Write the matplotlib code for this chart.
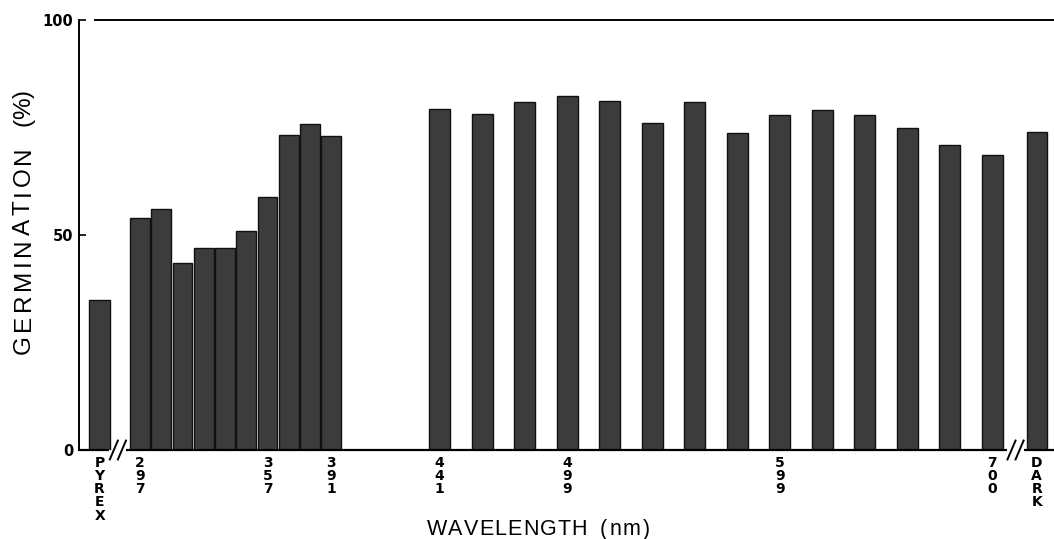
import matplotlib
matplotlib.use("Agg")
import matplotlib.pyplot as plt
import numpy as np

plt.rcParams['font.family'] = ['Liberation Sans', 'DejaVu Sans']

# ---- data ----
pyrex_label = "PYREX"
pyrex_value = 35.0

uv_labels = ["297", "", "", "", "", "", "357", "", "", "391"]
uv_values = [53.9, 56.0, 43.6, 46.9, 46.9, 51.0, 58.9, 73.3, 75.8, 73.0]

vis_labels = ["441", "", "", "499", "", "", "", "", "599", "", "", "", "", "700"]
vis_values = [79.3, 78.1, 81.0, 82.4, 81.2, 76.0, 81.0, 73.7, 77.8, 79.0, 77.9, 74.9, 70.9, 68.6]

dark_label = "DARK"
dark_value = 74.0

y_ticks = [0, 50, 100]
x_title_words = ["WAVELENGTH", "(nm)"]
y_title_words = ["GERMINATION", "(%)"]

# ---- layout (axis in approx. nm units) ----
uv_start, uv_step = 297, 10.0
vis_start, vis_step = 438, 20.0
pyrex_pos = 278
dark_pos = 719
x_lo, x_hi = 268.3, 727.1

uv_x = uv_start + uv_step * np.arange(len(uv_values))
vis_x = vis_start + vis_step * np.arange(len(vis_values))

W, H = 1054, 539
fig = plt.figure(figsize=(W / 100, H / 100), dpi=100)
ax = fig.add_axes([79 / W, 1 - 450 / H, 1 - 79 / W, 430 / H])

bar_face = "#3c3c3c"
edge = "#111111"
ax.bar([pyrex_pos], [pyrex_value], width=9.8, color=bar_face, edgecolor=edge, linewidth=1.0)
ax.bar(uv_x, uv_values, width=9.2, color=bar_face, edgecolor=edge, linewidth=1.0)
ax.bar(vis_x, vis_values, width=9.8, color=bar_face, edgecolor=edge, linewidth=1.0)
ax.bar([dark_pos], [dark_value], width=9.4, color=bar_face, edgecolor=edge, linewidth=1.0)

ax.set_xlim(x_lo, x_hi)
ax.set_ylim(0, 100)

for s in ["top", "right", "bottom"]:
    ax.spines[s].set_visible(False)
ax.spines["left"].set_linewidth(1.4)
ax.spines["left"].set_color("black")

# top frame line
ax.plot([275.6, x_hi], [100, 100], color="black", lw=1.4, clip_on=False)
# baseline with breaks
brk1, brk2 = 286.6, 709.0
gap = 4.0
ax.plot([x_lo, brk1 - gap], [0, 0], color="black", lw=1.6, clip_on=False, solid_capstyle="butt")
ax.plot([brk1 + gap, brk2 - gap], [0, 0], color="black", lw=1.6, clip_on=False, solid_capstyle="butt")
ax.plot([brk2 + gap, x_hi], [0, 0], color="black", lw=1.6, clip_on=False, solid_capstyle="butt")
for b in (brk1, brk2):
    for off in (-1.9, 1.9):
        ax.plot([b + off - 1.9, b + off + 1.9], [-2.2, 2.2], color="black", lw=1.4, clip_on=False)

# y ticks (inward)
ax.set_yticks(y_ticks)
ax.set_yticklabels([str(t) for t in y_ticks], fontsize=10.5, fontweight="bold",
                   family=["DejaVu Sans"])
ax.tick_params(axis="y", direction="in", length=5, width=1.2, pad=4)
ax.tick_params(axis="x", length=0)
ax.set_xticks([])

# stacked x labels
def vlabel(x, text):
    if not text:
        return
    ax.text(x, -1.3, "\n".join(text), ha="center", va="top", fontsize=10,
            fontweight="bold", family=["DejaVu Sans"], linespacing=0.93, clip_on=False)

vlabel(pyrex_pos, pyrex_label)
for x, t in zip(uv_x, uv_labels):
    vlabel(x, t)
for x, t in zip(vis_x, vis_labels):
    vlabel(x, t)
vlabel(dark_pos, dark_label)

# lightly tracked titles
renderer = fig.canvas.get_renderer()

def text_w(s, fontsize, family):
    t = fig.text(0, 0, s, fontsize=fontsize, family=family)
    w = t.get_window_extent(renderer).width
    t.remove()
    return w

def advances(s, fontsize, family):
    ref = text_w("||", fontsize, family)
    return [text_w("|" + ch + "|", fontsize, family) - ref for ch in s]

def word(s, start_px, length_px, base_px, fontsize, family, vertical=False):
    adv = advances(s, fontsize, family)
    extra = (length_px - sum(adv)) / (len(s) - 1) if len(s) > 1 else 0
    pos = start_px
    for ch, a in zip(s, adv):
        if vertical:
            fig.text(base_px / W, pos / H, ch, fontsize=fontsize, family=family,
                     rotation=90, rotation_mode="anchor", ha="left", va="baseline")
        else:
            fig.text(pos / W, base_px / H, ch, fontsize=fontsize, family=family,
                     ha="left", va="baseline")
        pos += a + extra

fam = ["Liberation Sans"]
word(x_title_words[0], 427, 160, H - 535, 15.5, fam)
word(x_title_words[1], 600, 50, H - 535, 15.5, fam)
word(y_title_words[0], H - 354, 208, 30, 17.5, fam, vertical=True)
word(y_title_words[1], H - 126, 36, 30, 17.5, fam, vertical=True)

fig.savefig("out.png", dpi=100)
